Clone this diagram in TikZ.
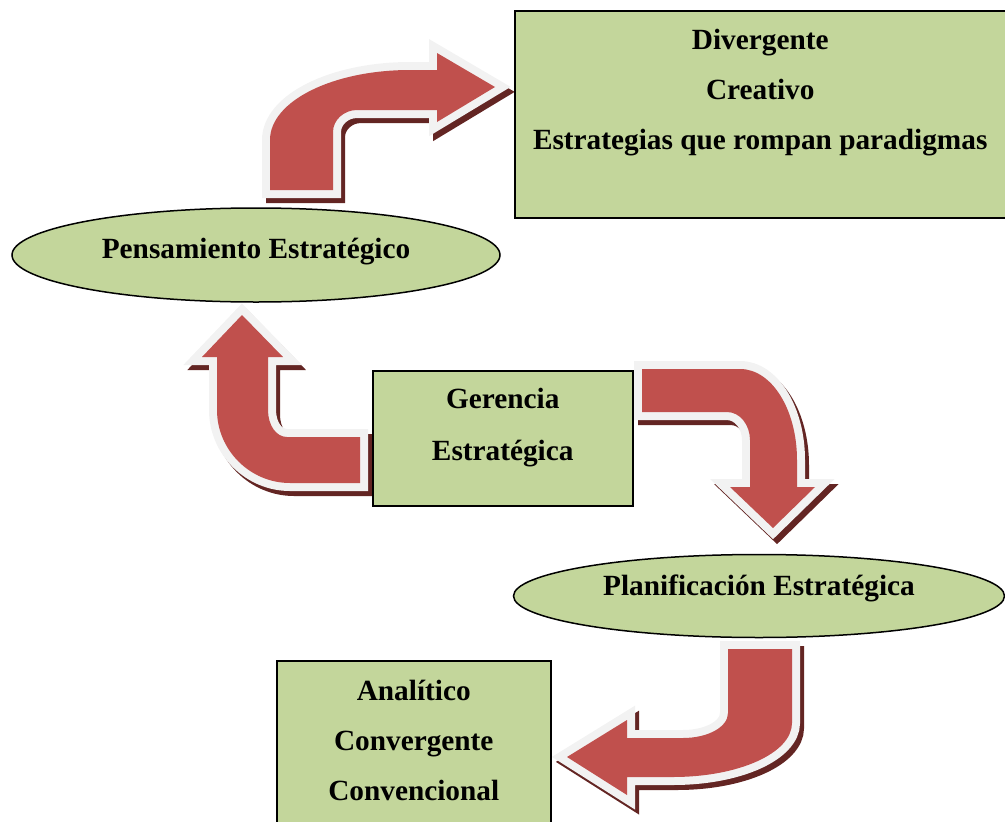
\documentclass[tikz,border=0pt]{standalone}
\usepackage{fontspec}
\setmainfont{Liberation Serif}
\usetikzlibrary{shapes.geometric,positioning}
\definecolor{boxgreen}{HTML}{C3D69B}
\definecolor{arrowred}{HTML}{C0504D}
\definecolor{arrowrim}{HTML}{F2F2F2}
\definecolor{arrowshade}{HTML}{632523}
\tikzset{
  greenbox/.style={draw=black, line width=1.5pt, fill=boxgreen, rectangle, inner sep=0pt, anchor=north west},
  greenoval/.style={draw=black, line width=1.5pt, fill=boxgreen, ellipse, inner sep=0pt,
    font=\bfseries\fontsize{29.3}{34}\selectfont},
  boxtext/.style={align=center, inner sep=0pt, font=\bfseries\fontsize{29.3}{50}\selectfont},
  bentarrow/.style={fill=arrowred, line join=miter,
    preaction={draw=arrowshade, fill=arrowshade, line width=16pt, transform canvas={shift={(4pt,-5pt)}}},
    preaction={draw=arrowrim, line width=16pt}},
}
\begin{document}
\begin{tikzpicture}[x=1pt, y=-1pt]
	\useasboundingbox (0,0) rectangle (1005,822);
	%
	% bent arrows (drawn first, boxes lie over them)
	\path[bentarrow] (270,190) -- (270,140) .. controls (270,101) and (333,70) .. (410,70)
		-- (437,70) -- (437,53) -- (495,87) -- (437,122) -- (437,110) -- (357,110)
		.. controls (344,110) and (333,120) .. (333,132) -- (333,190) -- cycle;
	\path[bentarrow] (360,437) -- (287,437) .. controls (276,437) and (268,425) .. (268,410)
		-- (268,357) -- (283,357) -- (242,315) -- (202,357) -- (217,357) -- (217,410)
		.. controls (217,450) and (250,483) .. (290,483) -- (360,483) -- cycle;
	\path[bentarrow] (642,369) -- (740,369) .. controls (772,369) and (797,410) .. (797,460)
		-- (797,487) -- (815,487) -- (773,528) -- (730,487) -- (750,487) -- (750,440)
		.. controls (750,425) and (740,412) .. (727,412) -- (642,412) -- cycle;
	\path[bentarrow] (728,649) -- (792,649) -- (792,723) .. controls (792,753) and (739,777) .. (673,777)
		-- (627,777) -- (627,795) -- (567,757) -- (627,720) -- (627,738) -- (683,738)
		.. controls (708,738) and (728,727) .. (728,713) -- cycle;
	%
	% boxes
	\node[greenbox, minimum width=491pt, minimum height=207pt] (divbox) at (514,10) {};
	\node[boxtext, below=19pt of divbox.north] (divtext) {Divergente\\Creativo\\Estrategias que rompan paradigmas};
	\node[greenbox, minimum width=260pt, minimum height=135pt] (gerbox) at (372,370) {};
	\node[boxtext, below=18pt of gerbox.north, font=\bfseries\fontsize{29.3}{52}\selectfont] (gertext) {Gerencia\\Estratégica};
	\node[greenbox, minimum width=274pt, minimum height=200pt] (anabox) at (276,660) {};
	\node[boxtext, below=20pt of anabox.north] (anatext) {Analítico\\Convergente\\Convencional};
	%
	% ovals
	\node[greenoval, minimum width=488pt, minimum height=94pt, text depth=14pt] (pens) at (256,255) {Pensamiento Estratégico};
	\node[greenoval, minimum width=491pt, minimum height=83pt, text depth=22pt] (plan) at (759,596) {Planificación Estratégica};
\end{tikzpicture}
\end{document}
